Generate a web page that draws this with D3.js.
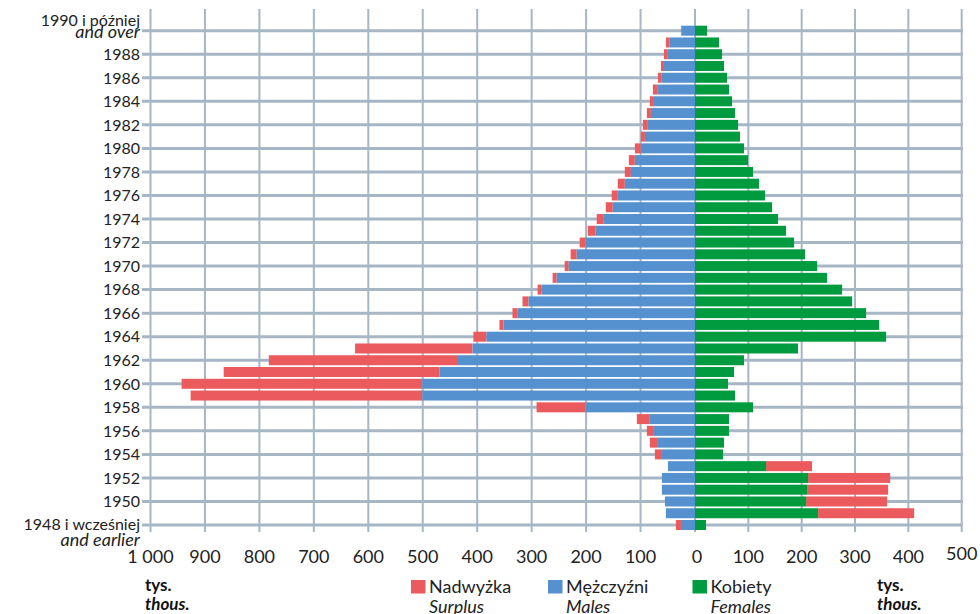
<!DOCTYPE html>
<html lang="pl">
<head>
<meta charset="UTF-8">
<title>Piramida</title>
<script src="https://d3js.org/d3.v7.min.js"></script>
<style>
  html, body { margin: 0; padding: 0; background: #fff; }
  svg { display: block; font-family: Lato, "Noto Sans", sans-serif; }
</style>
</head>
<body>
<svg id="chart" width="980" height="614"></svg>
<script>
// roczniki 1948 (i wcześniej) ... 1990 (i później)
const years = d3.range(1948, 1991);

const males = [25.8, 53.4, 55.2, 60.8, 60.8, 49.7, 60.8, 68.1, 75.5, 82.9,
  200.7, 500.9, 500.9, 469.6, 437, 408.5, 383, 351.7, 326, 305.7,
  281.8, 254.1, 232, 217.3, 200.7, 182.3, 167.6, 151, 141.8, 128.9,
  117.9, 110.5, 99.5, 92, 87.8, 81, 75.5, 69.4, 62, 57, 51, 47.3, 24.5];

const maleSurplus = [9.2, 0, 0, 0, 0, 0, 12.9, 14.8, 12.9, 23.9,
  90.3, 425.4, 442, 396, 345.7, 215.8, 24, 7.4, 9.2, 11.1,
  7.3, 7.4, 7.4, 11.1, 11.1, 14.7, 12.9, 12.9, 11.1, 12.9,
  11, 11, 11, 7.5, 8, 7.4, 7.4, 7.9, 6, 5.6, 6, 6.1, 1.3];

const females = [20.6, 230.8, 208.3, 210.1, 212, 133.2, 52.5, 54.4, 63.8, 63.8,
  108.8, 75, 61.9, 73.2, 91.9, 193.2, 358.3, 345.2, 320.8, 294.6,
  275.8, 247.7, 228.9, 206.4, 185.7, 170.7, 155.7, 144.5, 131.3, 120,
  108.8, 99.4, 91.9, 84.4, 80.7, 75, 69.4, 63.8, 60, 54.4, 50.7, 45, 22.5];

const femaleSurplus = [0, 180.1, 151.9, 152, 153.9, 86.3, 0, 0, 0, 0,
  0, 0, 0, 0, 0, 0, 0, 0, 0, 0, 0, 0, 0, 0, 0, 0, 0, 0, 0, 0,
  0, 0, 0, 0, 0, 0, 0, 0, 0, 0, 0, 0, 0];

const leftTicks = [0, 100, 200, 300, 400, 500, 600, 700, 800, 900, 1000];
const rightTicks = [100, 200, 300, 400, 500];

const RED = "#eb5b5e", BLUE = "#5591cf", GREEN = "#009b3e", GRID = "#a6b6c5";

const rows = years.map((yr, i) => ({
  year: yr, m: males[i], ms: maleSurplus[i], f: females[i], fs: femaleSurplus[i]
}));

const svg = d3.select("#chart");

const xL = d3.scaleLinear().domain([0, 1000]).range([695, 150.5]);
const xR = d3.scaleLinear().domain([0, 500]).range([695, 961.7]);
const y = d3.scaleBand()
  .domain(years.slice().reverse())
  .range([24.8, 530.9])
  .paddingInner(0.15)
  .paddingOuter(0.075);
const yc = yr => y(yr) + y.bandwidth() / 2;

// siatka
const grid = svg.append("g");
grid.selectAll(".vl").data(leftTicks).join("line")
  .attr("x1", d => xL(d)).attr("x2", d => xL(d))
  .attr("y1", 9).attr("y2", 532)
  .attr("stroke", GRID).attr("stroke-width", 2);
grid.selectAll(".vr").data(rightTicks).join("line")
  .attr("x1", d => xR(d)).attr("x2", d => xR(d))
  .attr("y1", 9).attr("y2", 532)
  .attr("stroke", GRID).attr("stroke-width", 2);

const labelYears = years.filter(yr => yr % 2 === 0);
grid.selectAll(".hl").data(labelYears).join("line")
  .attr("x1", 142).attr("x2", 963)
  .attr("y1", d => yc(d)).attr("y2", d => yc(d))
  .attr("stroke", GRID).attr("stroke-width", 3);

// słupki
const bars = svg.append("g");
bars.selectAll(".ms").data(rows).join("rect")
  .attr("x", d => xL(d.m + d.ms)).attr("y", d => y(d.year))
  .attr("width", d => xL(d.m) - xL(d.m + d.ms)).attr("height", y.bandwidth())
  .attr("fill", RED);
bars.selectAll(".m").data(rows).join("rect")
  .attr("x", d => xL(d.m)).attr("y", d => y(d.year))
  .attr("width", d => xL(0) - xL(d.m)).attr("height", y.bandwidth())
  .attr("fill", BLUE);
bars.selectAll(".fs").data(rows).join("rect")
  .attr("x", d => xR(d.f)).attr("y", d => y(d.year))
  .attr("width", d => xR(d.f + d.fs) - xR(d.f)).attr("height", y.bandwidth())
  .attr("fill", RED);
bars.selectAll(".f").data(rows).join("rect")
  .attr("x", xR(0)).attr("y", d => y(d.year))
  .attr("width", d => xR(d.f) - xR(0)).attr("height", y.bandwidth())
  .attr("fill", GREEN);

// etykiety roczników
const ylab = svg.append("g").attr("font-size", 16).attr("fill", "#222").attr("text-anchor", "end");
ylab.selectAll("text").data(labelYears.filter(d => d !== 1948 && d !== 1990)).join("text")
  .attr("x", 140).attr("y", d => yc(d)).attr("dy", "0.36em")
  .text(d => d);
ylab.append("text").attr("x", 140).attr("y", yc(1990) - 5).text("1990 i później");
ylab.append("text").attr("x", 140).attr("y", yc(1990) + 7.5).attr("font-size", 18).attr("font-style", "italic").text("and over");
ylab.append("text").attr("x", 140).attr("y", yc(1948) + 5).text("1948 i wcześniej");
ylab.append("text").attr("x", 140).attr("y", yc(1948) + 21).attr("font-size", 18).attr("font-style", "italic").text("and earlier");

// etykiety osi X
const fmt = d => d >= 1000 ? "1 000" : String(d);
const xlab = svg.append("g").attr("font-size", 18).attr("fill", "#222").attr("text-anchor", "middle");
xlab.selectAll(".tl").data(leftTicks).join("text")
  .attr("x", d => xL(d) + (d === 0 ? 2 : 0)).attr("y", 563).text(fmt);
xlab.selectAll(".tr").data(rightTicks).join("text")
  .attr("x", d => xR(d)).attr("y", d => d === 500 ? 560 : 563).text(fmt);

// jednostki
const unit = svg.append("g").attr("font-size", 17).attr("font-weight", "bold").attr("fill", "#111");
[145, 877].forEach(x0 => {
  unit.append("text").attr("x", x0).attr("y", 591).text("tys.");
  unit.append("text").attr("x", x0).attr("y", 610).attr("font-style", "italic").text("thous.");
});

// legenda
const legend = [
  { x: 411, color: RED, pl: "Nadwyżka", en: "Surplus" },
  { x: 548, color: BLUE, pl: "Mężczyźni", en: "Males" },
  { x: 692.5, color: GREEN, pl: "Kobiety", en: "Females" }
];
const lg = svg.append("g").attr("fill", "#222");
legend.forEach(l => {
  lg.append("rect").attr("x", l.x).attr("y", 580).attr("width", 14.5).attr("height", 13.5).attr("fill", l.color);
  lg.append("text").attr("x", l.x + 18).attr("y", 593).attr("font-size", 18).text(l.pl);
  lg.append("text").attr("x", l.x + 18).attr("y", 613).attr("font-size", 18).attr("font-style", "italic").text(l.en);
});
</script>
</body>
</html>
